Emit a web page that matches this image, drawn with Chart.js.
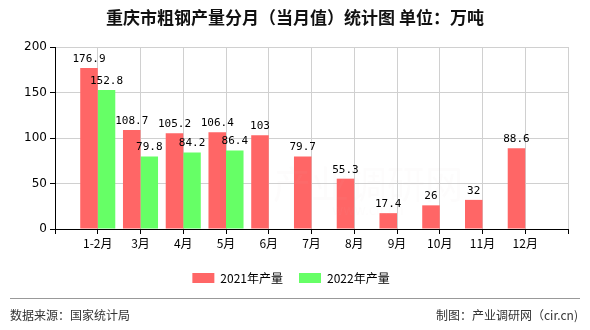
<!DOCTYPE html>
<html>
<head>
<meta charset="utf-8">
<script src="https://cdn.jsdelivr.net/npm/chart.js@4/dist/chart.umd.min.js"></script>
<style>
  html, body { margin: 0; padding: 0; background: #fff; }
  #wrap { width: 590px; height: 330px; position: relative; }
</style>
</head>
<body>
<div id="wrap"><canvas id="c" width="590" height="330"></canvas></div>
<script>
// Monthly crude steel output of Chongqing (10k tonnes)
const categories = ['1-2月', '3月', '4月', '5月', '6月', '7月', '8月', '9月', '10月', '11月', '12月'];
const output2021 = [176.9, 108.7, 105.2, 106.4, 103, 79.7, 55.3, 17.4, 26, 32, 88.6];
const output2022 = [152.8, 79.8, 84.2, 86.4];
const seriesNames = ['2021年产量', '2022年产量'];
const yTickValues = [0, 50, 100, 150, 200];

const titleText = '重庆市粗钢产量分月（当月值）统计图 单位：万吨';
const sourceText = '数据来源：国家统计局';
const creditText = '制图：产业调研网（cir.cn)';
const watermarkText = '产业调研网';
const watermarkSub = 'www.cir.cn';

const CJK = '"Noto Sans CJK SC", "DejaVu Sans", sans-serif';

// Blank slots at each end give the axis its outer margin
const labels = [''].concat(categories, ['']);
function padSeries(values) {
  const out = [null];
  for (let i = 0; i < categories.length; i++) {
    out.push(i < values.length ? values[i] : null);
  }
  out.push(null);
  return out;
}

const decorations = {
  id: 'decorations',
  beforeDraw(chart) {
    const ctx = chart.ctx;
    ctx.save();
    ctx.fillStyle = '#fff';
    ctx.fillRect(0, 0, chart.width, chart.height);
    ctx.restore();
  },
  afterDatasetsDraw(chart) {
    const ctx = chart.ctx;
    const area = chart.chartArea;
    ctx.save();
    // very faint watermark
    const wx = area.left + (area.right - area.left) * 0.61;
    const wy = area.top + (area.bottom - area.top) * 0.75;
    ctx.textAlign = 'center';
    ctx.textBaseline = 'middle';
    ctx.fillStyle = 'rgba(220, 200, 205, 0.05)';
    ctx.font = '38px ' + CJK;
    ctx.fillText(watermarkText, wx, wy);
    ctx.font = '14px ' + CJK;
    ctx.fillText(watermarkSub, wx, wy + 26);

    // value labels over the bars
    ctx.font = '11px "DejaVu Sans Mono", "Liberation Mono", monospace';
    ctx.fillStyle = '#000';
    ctx.textAlign = 'center';
    ctx.textBaseline = 'alphabetic';
    chart.data.datasets.forEach((ds, di) => {
      const meta = chart.getDatasetMeta(di);
      meta.data.forEach((bar, i) => {
        const v = ds.data[i];
        if (v === null || v === undefined) return;
        ctx.fillText(String(v), bar.x, bar.y - 6);
      });
    });
    ctx.restore();
  },
  afterDraw(chart) {
    const ctx = chart.ctx;
    const w = chart.width;
    ctx.save();
    // title
    ctx.font = 'bold 17px ' + CJK;
    ctx.fillStyle = '#111';
    ctx.textAlign = 'center';
    ctx.textBaseline = 'middle';
    ctx.fillText(titleText, w / 2, 18);

    // footer rule and texts
    ctx.strokeStyle = '#999';
    ctx.lineWidth = 1;
    ctx.beginPath();
    ctx.moveTo(10, 298.5);
    ctx.lineTo(w - 10, 298.5);
    ctx.stroke();

    ctx.font = '12px ' + CJK;
    ctx.fillStyle = '#333';
    ctx.textAlign = 'left';
    ctx.fillText(sourceText, 10, 315);
    ctx.textAlign = 'right';
    ctx.fillText(creditText, w - 12, 315);
    ctx.restore();
  }
};

new Chart(document.getElementById('c'), {
  type: 'bar',
  data: {
    labels: labels,
    datasets: [
      {
        label: seriesNames[0],
        data: padSeries(output2021),
        backgroundColor: '#ff6666',
        borderWidth: 0
      },
      {
        label: seriesNames[1],
        data: padSeries(output2022),
        backgroundColor: '#66ff66',
        borderWidth: 0
      }
    ]
  },
  options: {
    responsive: false,
    animation: false,
    devicePixelRatio: 1,
    layout: { padding: { top: 47, left: 14, right: 22, bottom: 36 } },
    datasets: {
      bar: { categoryPercentage: 0.82, barPercentage: 1.0 }
    },
    scales: {
      x: {
        type: 'category',
        offset: false,
        grid: {
          offset: false,
          color: '#d0d0d0',
          tickColor: '#000',
          tickLength: 5,
          drawOnChartArea: true
        },
        border: { color: '#000', width: 1 },
        ticks: {
          color: '#000',
          font: { size: 12, family: CJK },
          padding: 2,
          autoSkip: false,
          maxRotation: 0
        },
        afterFit(scale) { scale.height = 27; }
      },
      y: {
        min: 0,
        max: 200,
        afterBuildTicks(scale) {
          scale.ticks = yTickValues.map(v => ({ value: v }));
        },
        grid: {
          color: '#d0d0d0',
          tickColor: '#000',
          tickLength: 5
        },
        border: { color: '#000', width: 1 },
        ticks: {
          color: '#000',
          font: { size: 12, family: '"DejaVu Sans", sans-serif' },
          padding: 3
        },
        afterFit(scale) { scale.width = 41; }
      }
    },
    plugins: {
      title: { display: false },
      tooltip: { enabled: false },
      legend: {
        display: true,
        position: 'bottom',
        labels: {
          boxWidth: 22,
          boxHeight: 10,
          padding: 16,
          color: '#000',
          font: { size: 12, family: CJK }
        }
      }
    }
  },
  plugins: [decorations]
});
</script>
</body>
</html>
